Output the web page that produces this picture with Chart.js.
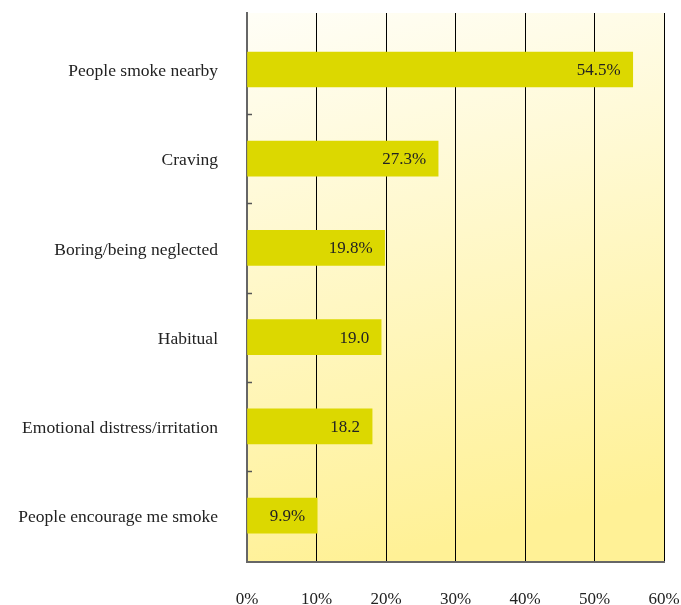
<!DOCTYPE html>
<html>
<head>
<meta charset="utf-8">
<script src="https://cdn.jsdelivr.net/npm/chart.js@4"></script>
<style>
html,body{margin:0;padding:0;background:#ffffff;}
#wrap{width:681px;height:605px;position:relative;}
</style>
</head>
<body>
<div id="wrap"><canvas id="c" width="681" height="605"></canvas></div>
<script>
const categories = ["People smoke nearby","Craving","Boring/being neglected","Habitual","Emotional distress/irritation","People encourage me smoke"];
const barValues = [55.5, 27.5, 19.8, 19.3, 18.0, 10.1];
const valueLabels = ["54.5%","27.3%","19.8%","19.0","18.2","9.9%"];
const xTicks = [0,10,20,30,40,50,60];

const FONT = "'Liberation Serif', serif";

const bgPlugin = {
  id:'bg',
  beforeDraw(chart){
    const {ctx, chartArea:a} = chart;
    const g = ctx.createLinearGradient(a.left, a.top, a.left + (a.right-a.left)*0.3, a.bottom);
    g.addColorStop(0,'#fffef7');
    g.addColorStop(1,'#fff196');
    ctx.save();
    ctx.fillStyle = g;
    ctx.fillRect(a.left, a.top, a.right-a.left, a.bottom-a.top);
    ctx.restore();
  }
};

const overlay = {
  id:'overlay',
  afterDatasetsDraw(chart){
    const {ctx} = chart;
    const xs = chart.scales.x, ys = chart.scales.y;
    ctx.save();
    ctx.strokeStyle = '#555'; ctx.lineWidth = 1.5;
    for(let i=0;i<categories.length-1;i++){
      const y = Math.round(ys.getPixelForValue(i+0.5))+0.5;
      ctx.beginPath(); ctx.moveTo(xs.left, y); ctx.lineTo(xs.left+5, y); ctx.stroke();
    }
    ctx.fillStyle = '#222';
    ctx.font = "17px " + FONT;
    ctx.textAlign = 'right'; ctx.textBaseline = 'middle';
    const meta = chart.getDatasetMeta(0);
    meta.data.forEach((bar,i)=>{
      ctx.fillText(valueLabels[i], bar.x - 12, bar.y + 1);
    });
    ctx.restore();
  }
};

function zeroPad(s){ s.paddingTop = 0; s.paddingBottom = 0; s.paddingLeft = 0; s.paddingRight = 0; }

new Chart(document.getElementById('c'), {
  type:'bar',
  data:{
    datasets:[{
      data: barValues.map((v,i)=>({x:v, y:i})),
      backgroundColor:'#dcd800',
      borderWidth:0,
      barThickness:35
    }]
  },
  options:{
    indexAxis:'y',
    responsive:false,
    animation:false,
    layout:{padding:{top:13,right:17,left:0,bottom:0}},
    plugins:{legend:{display:false},tooltip:{enabled:false}},
    scales:{
      x:{
        type:'linear', min:0, max:60, offset:false,
        afterBuildTicks(s){ s.ticks = xTicks.map(v=>({value:v})); },
        afterFit(s){ s.height = 43; zeroPad(s); },
        ticks:{ callback:v=>v+'%', color:'#222', font:{family:FONT,size:17}, padding:27, maxRotation:0 },
        grid:{ color:(c)=> c.tick && c.tick.value===0 ? 'rgba(0,0,0,0)' : '#000', lineWidth:1, drawTicks:false, offset:false },
        border:{ display:true, color:'#666', width:2 }
      },
      y:{
        type:'linear', reverse:true, min:-0.633, max:5.52, offset:false,
        afterBuildTicks(s){ s.ticks = categories.map((c,i)=>({value:i})); },
        afterFit(s){ s.width = 247; zeroPad(s); },
        ticks:{ callback:(v)=>categories[v], color:'#222', font:{family:FONT,size:17.5}, padding:29, labelOffset:2 },
        grid:{ display:false, drawTicks:false, offset:false },
        border:{ display:true, color:'#666', width:2 }
      }
    }
  },
  plugins:[bgPlugin, overlay]
});
</script>
</body>
</html>
